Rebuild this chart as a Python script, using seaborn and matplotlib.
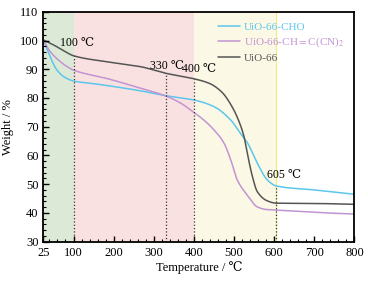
import numpy as np
import pandas as pd
import matplotlib
matplotlib.use('Agg')
import matplotlib.pyplot as plt
from matplotlib.ticker import MultipleLocator
import seaborn as sns

# TGA curves
temp_cho = [25, 40, 55, 70, 85, 100, 150, 200, 267, 330, 400, 450, 492, 517, 533, 558, 583, 605, 700, 800]
w_cho = [100, 95.0, 90.5, 88, 86.7, 85.9, 85.0, 84.0, 82.5, 80.8, 79.3, 77.0, 72.3, 67.5, 64.5, 57.3, 51.5, 49.4, 48.0, 46.5]

temp_cn = [25, 40, 60, 80, 100, 183, 267, 330, 366, 400, 425, 450, 475, 492, 508, 533, 558, 580, 605, 700, 800]
w_cn = [100, 96.5, 93.5, 91.3, 89.7, 86.8, 83.4, 80.7, 78.3, 75.0, 72.3, 68.9, 64.3, 58.4, 51.5, 46.2, 42.1, 41.2, 41.0, 40.2, 39.6]

temp_uio = [25, 50, 75, 100, 183, 267, 330, 400, 440, 470, 495, 512, 525, 533, 546, 558, 583, 605, 700, 800]
w_uio = [100.2, 98.5, 96.5, 94.7, 92.6, 90.9, 88.6, 86.7, 85.0, 82.0, 77.0, 72.0, 66.5, 60.8, 52.6, 47.4, 44.2, 43.4, 43.3, 43.0]

labels = ['UiO-66-CHO', 'UiO-66-CH$=$C(CN)$_2$', 'UiO-66']
colors = ['#5cc6ec', '#c294d2', '#555555']

marks = [100, 330, 400, 605]
mark_tops = [94.7, 88.6, 86.7, 49.4]
mark_text = ['100 ℃', '330 ℃', '400 ℃', '605 ℃']
text_pos = [(108, 99), (333, 91.2), (413, 90), (624, 53.2)]

serif = ['Liberation Serif', 'DejaVu Serif']
sns.set_style('ticks')
plt.rcParams['font.family'] = serif
plt.rcParams['mathtext.fontset'] = 'stix'
plt.rcParams['text.color'] = 'black'
plt.rcParams['axes.labelcolor'] = 'black'


def pchip(t, w, n=600):
    # monotone cubic so the curves bend like the measured traces
    t = np.asarray(t, float)
    w = np.asarray(w, float)
    h = np.diff(t)
    d = np.diff(w) / h
    m = np.zeros_like(w)
    for k in range(1, len(w) - 1):
        if d[k - 1] * d[k] > 0:
            w1 = 2 * h[k] + h[k - 1]
            w2 = h[k] + 2 * h[k - 1]
            m[k] = (w1 + w2) / (w1 / d[k - 1] + w2 / d[k])
    m[0], m[-1] = d[0], d[-1]
    x = np.linspace(t[0], t[-1], n)
    i = np.clip(np.searchsorted(t, x) - 1, 0, len(h) - 1)
    s = (x - t[i]) / h[i]
    h00 = 2 * s**3 - 3 * s**2 + 1
    h10 = s**3 - 2 * s**2 + s
    h01 = -2 * s**3 + 3 * s**2
    h11 = s**3 - s**2
    y = h00 * w[i] + h10 * h[i] * m[i] + h01 * w[i + 1] + h11 * h[i] * m[i + 1]
    return pd.DataFrame({'T': x, 'W': y})


fig = plt.figure(figsize=(3.68, 2.81), dpi=100)
ax = fig.add_axes([0.118, 0.140, 0.845, 0.818])
ax.set_axisbelow(False)

ax.axvspan(25, 100, color='#dce9d6', lw=0, zorder=0)
ax.axvspan(100, 400, color='#f9e1e1', lw=0, zorder=0)
ax.axvspan(400, 605, color='#fbf8e5', lw=0, zorder=0)
ax.axvline(605, color='#f2ec7a', lw=0.8, zorder=0.5)

for t, w, lab, c in zip([temp_cho, temp_cn, temp_uio], [w_cho, w_cn, w_uio], labels, colors):
    sns.lineplot(data=pchip(t, w), x='T', y='W', color=c, lw=1.1, label=lab, ax=ax)

for m, top in zip(marks, mark_tops):
    ax.plot([m, m], [30, top], color='#333333', ls=':', lw=0.9)
for s, (tx, ty) in zip(mark_text, text_pos):
    ax.text(tx, ty, s, ha='center', va='center', fontsize=8.5, family=serif)

ax.set_xlim(25, 800)
ax.set_ylim(30, 110)
ax.set_xticks([25, 100, 200, 300, 400, 500, 600, 700, 800])
ax.set_yticks(range(30, 111, 10))
ax.xaxis.set_minor_locator(MultipleLocator(20))
ax.yaxis.set_minor_locator(MultipleLocator(2))
ax.tick_params(which='both', direction='in', labelsize=9, color='black', labelcolor='black')
ax.tick_params(which='major', length=4, width=1)
ax.tick_params(which='minor', length=2.5, width=0.8)
for sp in ax.spines.values():
    sp.set_linewidth(1.3)
    sp.set_color('black')
ax.set_xlabel('Temperature / ℃', fontsize=9, labelpad=2)
ax.set_ylabel('Weight / %', fontsize=9, labelpad=4)

leg = ax.legend(loc='upper right', frameon=False, fontsize=8, handlelength=2,
                handletextpad=0.4, labelspacing=0.35, bbox_to_anchor=(1.0, 1.0))
for txt, c in zip(leg.get_texts(), colors):
    txt.set_color(c)

fig.savefig('out.png', dpi=100)
